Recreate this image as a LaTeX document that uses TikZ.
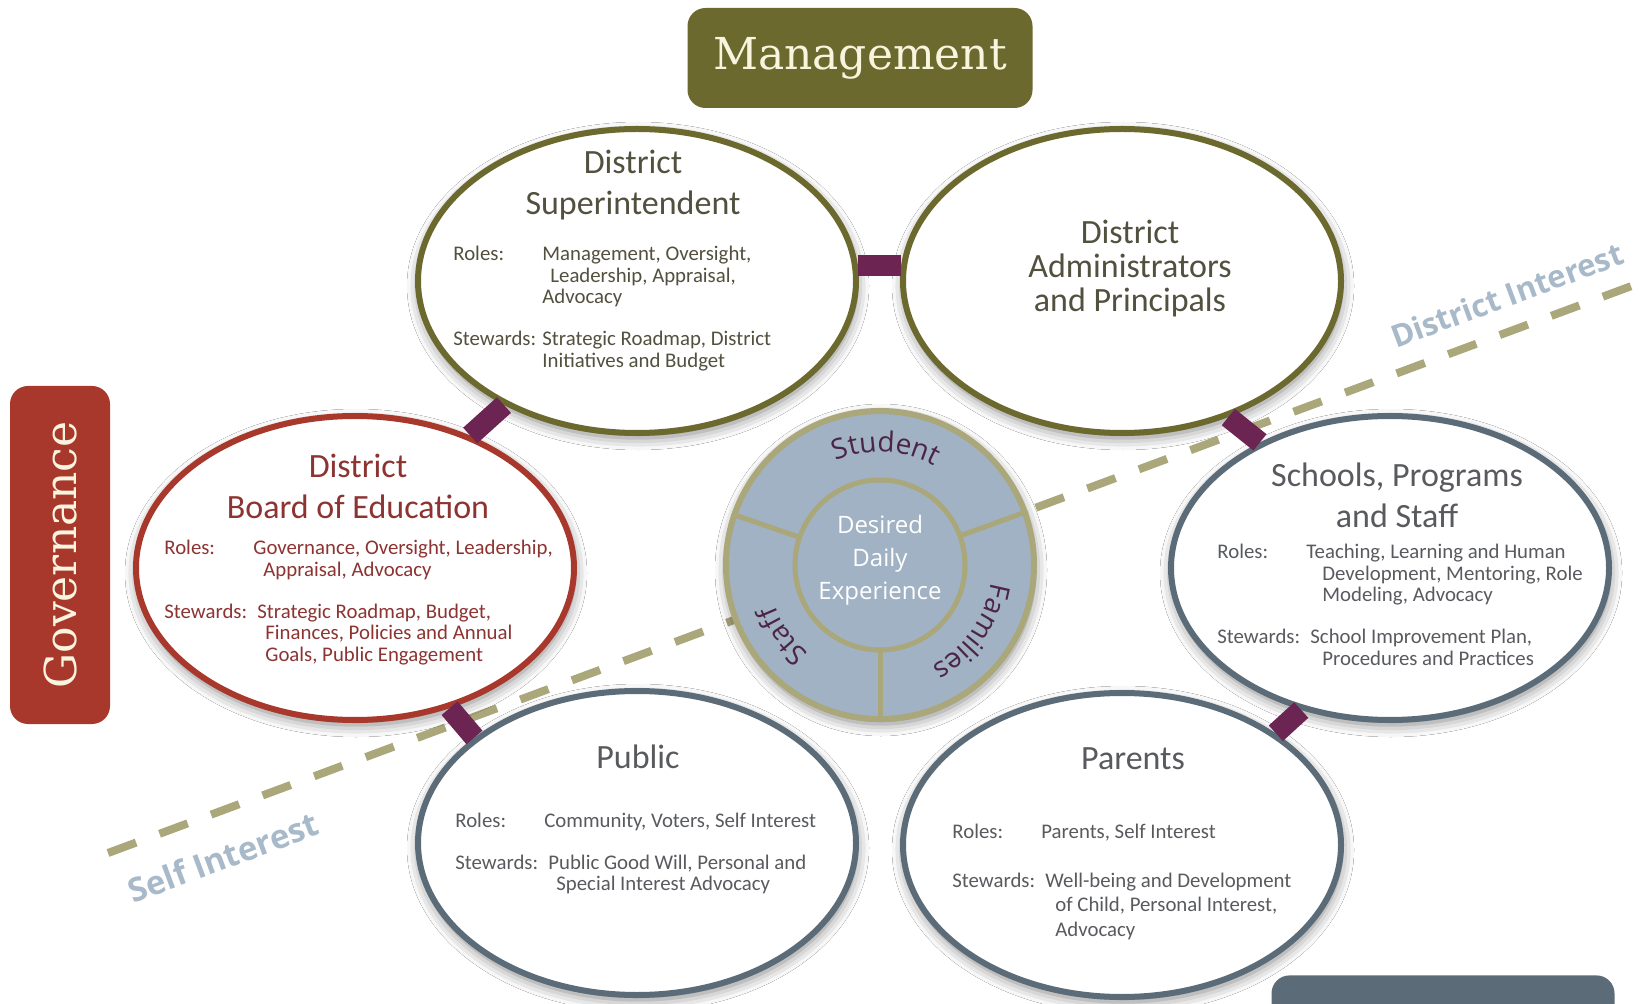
\documentclass[tikz,border=0pt]{standalone}
\usepackage{fontspec}
\setmainfont{Carlito}
\newfontfamily\slabfont{DejaVu Serif}
\newfontfamily\ringfont{Open Sans}
\usetikzlibrary{calc,shapes.geometric,decorations.text,shadows.blur}
\definecolor{olive}{RGB}{107,105,45}
\definecolor{brick}{RGB}{168,56,43}
\definecolor{slate}{RGB}{91,108,120}
\definecolor{plum}{RGB}{108,36,82}
\definecolor{khaki}{RGB}{170,167,123}
\definecolor{hubblue}{RGB}{160,178,196}
\definecolor{steel}{RGB}{168,186,202}
\definecolor{cream}{RGB}{248,244,222}
\definecolor{olivetext}{RGB}{82,80,62}
\definecolor{bricktext}{RGB}{140,52,50}
\definecolor{slatetext}{RGB}{88,90,94}
\definecolor{ringtext}{RGB}{75,36,70}

\newlength{\tagw}\setlength{\tagw}{44.5pt}
\newcommand{\infotab}[1]{\begin{tabular}[t]{@{}p{\tagw}@{}l@{}}#1\end{tabular}}
\newcommand{\ringfmt}{\ringfont\fontsize{14}{14}\selectfont\color{ringtext}}

\begin{document}
\begin{tikzpicture}[x=0.5pt, y=-0.5pt,
    oval/.style={ellipse, line width=3pt, fill=white, minimum width=219pt, minimum height=152pt,
      blur shadow={shadow xshift=0.5pt, shadow yshift=-2.5pt, shadow blur radius=6pt, shadow opacity=50}},
    ovtitle/.style={font=\fontsize{17}{20.5}\selectfont, align=center, inner sep=0pt},
    info/.style={font=\fontsize{10.4}{10.75}\selectfont, inner sep=0pt, anchor=base west},
    link/.style={plum, line width=10.5pt},
    dashline/.style={khaki, line width=4pt, dash pattern=on 15pt off 12.5pt},
    tagbox/.style={rounded corners=9pt, inner sep=0pt, text=cream, font=\slabfont\fontsize{22}{22}\selectfont},
    interest/.style={font=\ringfont\bfseries, text=steel, inner sep=0pt},
    ringline/.style={khaki, line width=2.5pt}
]
\useasboundingbox (0,0) rectangle (1648,1004);
\fill[white] (0,0) rectangle (1648,1004);
\clip (0,0) rectangle (1648,1004);

% interest divide
\coordinate (selfend) at (108,853);
\coordinate (distend) at (1645,281);
\draw[dashline] (selfend) -- (distend);

% the six groups
\node[oval, draw=olive] (sup) at (637,281) {};
\node[oval, draw=olive] (adm) at (1122,281) {};
\node[oval, draw=brick] (board) at (355,568) {};
\node[oval, draw=slate] (school) at (1390,568) {};
\node[oval, draw=slate] (pub) at (637,843) {};
\node[oval, draw=slate] (par) at (1122,845) {};

% hub
\node[circle, draw=khaki, line width=3pt, fill=hubblue, minimum size=154pt,
  blur shadow={shadow xshift=0.5pt, shadow yshift=-2.5pt, shadow blur radius=6pt, shadow opacity=50}] (hub) at (880,565) {};
\node[circle, draw=khaki, line width=2.5pt, minimum size=85pt] (core) at (hub) {};
\foreach \a in {20,161,270}
  \draw[ringline] (core.\a) -- (hub.\a);
\node[font=\ringfont\fontsize{12}{16.5}\selectfont, text=white, align=center] (ddx) at (880,560) {Desired\\Daily\\Experience};
\path[decorate, decoration={text along path, text align=center, text={|\ringfmt|Student}}]
  ($(hub.center)+(228:113)$) arc[start angle=228, end angle=318, radius=113];
\path[decorate, decoration={text along path, text align=center, text={|\ringfmt|Families}}]
  ($(hub.center)+(-9:113)$) arc[start angle=-9, end angle=81, radius=113];
\path[decorate, decoration={text along path, text align=center, text={|\ringfmt|Staff}}]
  ($(hub.center)+(99:113)$) arc[start angle=99, end angle=189, radius=113];

% links
\draw[link] (sup.4) -- (adm.176);
\draw[link] (sup.223) -- (board.49);
\draw[link] (adm.-52) -- (school.136);
\draw[link] (board.-56) -- (pub.147);
\draw[link] (school.238) -- (par.36);

% titles
\node[ovtitle, text=olivetext] (suptitle) at (633,185) {District\\Superintendent};
\node[ovtitle, text=olivetext, font=\fontsize{17}{17}\selectfont] (admtitle) at (1130,269) {District\\Administrators\\and Principals};
\node[ovtitle, text=bricktext] (boardtitle) at (358,486) {District\\Board of Education};
\node[ovtitle, text=slatetext] (schooltitle) at (1397,495) {Schools, Programs\\and Staff};
\node[ovtitle, text=slatetext] (pubtitle) at (638,757) {Public};
\node[ovtitle, text=slatetext] (partitle) at (1133,759) {Parents};

% roles and stewards
\node[info, text=olivetext] (supinfo) at (453,261) {\infotab{%
  Roles: & Management, Oversight,\\
  & \hspace{4pt}Leadership, Appraisal,\\
  & Advocacy\\[10.25pt]
  Stewards: & Strategic Roadmap, District\\
  & Initiatives and Budget}};
\node[info, text=bricktext] (boardinfo) at (164,555) {\infotab{%
  Roles: & Governance, Oversight, Leadership,\\
  & \hspace{5pt}Appraisal, Advocacy\\[10.25pt]
  Stewards: & \hspace{2pt}Strategic Roadmap, Budget,\\
  & \hspace{6pt}Finances, Policies and Annual\\
  & \hspace{6pt}Goals, Public Engagement}};
\node[info, text=slatetext] (schoolinfo) at (1217,559) {\infotab{%
  Roles: & Teaching, Learning and Human\\
  & \hspace{8pt}Development, Mentoring, Role\\
  & \hspace{8pt}Modeling, Advocacy\\[10.25pt]
  Stewards: & \hspace{2pt}School Improvement Plan,\\
  & \hspace{8pt}Procedures and Practices}};
\node[info, text=slatetext] (pubinfo) at (455,827) {\infotab{%
  Roles: & Community, Voters, Self Interest\\[10.25pt]
  Stewards: & \hspace{2pt}Public Good Will, Personal and\\
  & \hspace{6pt}Special Interest Advocacy}};
\node[info, text=slatetext, font=\fontsize{10.4}{12.3}\selectfont] (parinfo) at (952,838) {\infotab{%
  Roles: & Parents, Self Interest\\[12.2pt]
  Stewards: & \hspace{2pt}Well-being and Development\\
  & \hspace{7pt}of Child, Personal Interest,\\
  & \hspace{7pt}Advocacy}};

% side tags
\node[tagbox, fill=olive, minimum width=172.5pt, minimum height=50pt] (mgmt) at (860,58) {Management};
\node[tagbox, fill=brick, rotate=90, minimum width=169pt, minimum height=50pt] (gov) at (60,555) {Governance};
\node[tagbox, fill=slate, minimum width=171.5pt, minimum height=50pt, anchor=north] (lowtag) at (1443,975) {};

% interest labels
\node[interest, rotate=20.4, font=\ringfont\bfseries\fontsize{15.5}{15.5}\selectfont] (distlbl) at (1507,295) {District Interest};
\node[interest, rotate=20.4, font=\ringfont\bfseries\fontsize{16.5}{16.5}\selectfont] (selflbl) at (223,857) {Self Interest};
\end{tikzpicture}
\end{document}
